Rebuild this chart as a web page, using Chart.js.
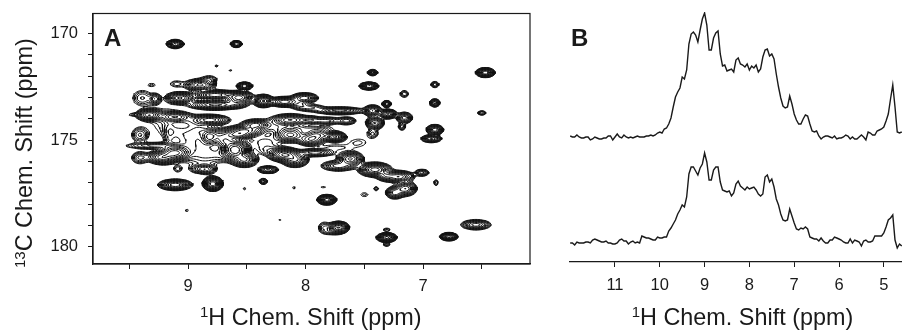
<!DOCTYPE html>
<html>
<head>
<meta charset="utf-8">
<title>NMR spectra</title>
<script src="https://cdn.jsdelivr.net/npm/chart.js@4/dist/chart.umd.min.js"></script>
<style>
  html, body { margin: 0; background: #fff; }
  canvas { position: absolute; top: 0; }
  #chartA { left: 0; }
  #chartB { left: 545px; }
</style>
</head>
<body>
<canvas id="chartA" width="545" height="330"></canvas>
<canvas id="chartB" width="357" height="330"></canvas>
<script>
// Panel A peaks: 1H ppm, 13C ppm, height, half width 1H, half width 13C
const peaksA = [
  [9.11,170.49,20,.077,.21],[8.59,170.49,12,.051,.16],[8.76,171.52,1.6,.013,.06],[8.64,171.73,1.3,.01,.05],
  [9.31,172.41,1.5,.03,.07],[8.52,172.46,15,.07,.19],[9.10,172.36,2,.05,.14],[8.90,172.41,12,.14,.3],
  [8.82,172.13,2.5,.06,.15],[9.39,173.02,3,.08,.35],[9.28,173.06,6,.05,.25],[9.07,173.02,15,.13,.3],
  [8.77,172.88,18,.2,.25],[8.56,172.97,14,.12,.28],[8.36,173.16,25,.09,.32],[8.18,173.2,18,.15,.25],
  [8.01,173.02,14,.12,.25],[8.05,173.34,4,.08,.18],[7.71,173.62,10,.22,.18],[7.96,173.48,4,.12,.16],
  [7.43,173.62,14,.08,.28],[7.30,173.77,20,.08,.23],[7.31,173.3,12,.04,.16],[7.41,174.19,15,.08,.32],
  [7.43,174.7,2.5,.045,.19],[7.16,173.95,10,.07,.27],[7.18,174.37,4,.03,.16],[7.16,172.83,3,.035,.16],
  [7.43,171.83,8,.045,.14],[7.46,172.46,20,.085,.19],[6.90,172.39,4,.035,.14],[6.47,171.83,25,.085,.23],
  [6.90,173.25,12,.045,.19],[6.50,173.72,4,.035,.1],[6.90,174.51,18,.075,.25],[6.93,174.93,12,.09,.18],
  [9.33,173.81,18,.12,.3],[9.11,173.9,10,.14,.25],[8.81,174.05,12,.17,.25],[8.77,173.34,16,.24,.25],
  [8.43,174.28,12,.12,.25],[8.52,174.56,14,.17,.28],[8.13,174.05,14,.17,.3],[7.96,174.05,5,.08,.18],
  [7.83,174.09,6,.14,.18],[7.65,174.09,6,.08,.18],[8.13,174.75,12,.14,.37],[7.96,174.98,10,.12,.3],
  [7.75,174.84,20,.1,.26],[7.9,174.75,8,.12,.3],[9.41,174.75,4,.07,.35],[8.82,174.84,10,.08,.42],
  [9.11,174.6,2,.08,.25],[8.99,174.75,1.7,.07,.3],[8.94,175.45,1.6,.1,.55],[9.2,174.05,1.5,.1,.45],
  [9.37,175.26,3,.16,.12],[9.11,175.59,20,.15,.42],[8.6,175.45,30,.14,.58],[8.52,175.92,15,.12,.36],
  [9.41,175.82,4,.07,.28],[9.28,175.78,2,.08,.12],[8.18,175.68,25,.15,.36],[8.09,175.92,15,.12,.36],
  [7.92,175.59,8,.17,.18],[8.32,176.38,12,.09,.18],[8.36,176.93,5,.035,.14],[9.11,177.09,18,.15,.27],
  [8.79,177.04,30,.09,.36],[9.09,176.34,2,.03,.14],[8.83,176.38,3,.06,.19],[8.52,177.27,1.5,.013,.06],
  [8.1,177.23,1.5,.013,.05],[9.01,178.29,1.6,.013,.05],[8.22,178.72,1.3,.01,.04],[7.62,175.87,15,.12,.36],
  [7.72,176.2,8,.15,.25],[7.41,176.38,22,.15,.36],[7.32,176.66,8,.08,.25],[7.21,176.71,14,.14,.3],
  [7.15,177.27,14,.1,.36],[7.24,177.46,10,.08,.3],[7.01,176.52,6,.06,.16],[7.1,176.66,1.6,.013,.06],
  [6.89,176.99,2.5,.017,.14],[7.5,177.55,1.5,.03,.09],[7.4,177.27,3,.02,.09],[7.82,177.79,30,.085,.25],
  [7.72,179.09,25,.095,.3],[7.84,179.09,3,.05,.25],[7.77,179.28,3,.07,.14],[7.31,179.56,28,.09,.23],
  [7.31,179.19,2,.03,.07],[7.31,179.89,3,.03,.07],[6.78,179.52,30,.08,.19],[6.55,178.96,10,.13,.24],
  [8.58,173.11,10,.12,.36],[8.58,174.75,14,.14,.25],
  [9.45,173.8,2,.06,.05],[9.25,175.26,4,.14,.14],[9.22,175.8,15,.13,.36],[9.16,174.9,1.8,.03,.6],
  [8.84,175.65,2,.1,.4],[8.88,176.35,6,.1,.2],[8.73,174.8,6,.11,.36],[8.68,175.05,8,.09,.3],
  [8.9,174.55,3,.09,.3],[9.0,175.15,1.8,.11,.36],[8.7,175.7,2,.09,.25],[8.93,174.1,2.5,.16,.25],
  [8.3,174.3,2,.16,.25],[8.35,175.1,2,.11,.3],[8.3,175.5,2,.09,.18],[8,174.45,2.5,.22,.14],
  [7.75,175.35,1.5,.1,.12],[7.55,175.1,1.4,.06,.15],[7.85,177.2,1.3,.02,.04]
];
const contourLevels = [1, 1.3, 1.7, 2.2, 2.9, 3.8, 4.9, 6.4, 8.3, 10.8, 14, 18.2, 23.7];

// Panel B traces, one value per grid point
const ppmGrid = [
  12,11.95,11.9,11.85,11.8,11.75,11.7,11.65,11.6,11.55,11.5,11.45,11.4,11.35,11.3,11.25,11.2,11.15,11.1,11.05,
  11,10.95,10.9,10.85,10.8,10.75,10.7,10.65,10.6,10.55,10.5,10.45,10.4,10.35,10.3,10.25,10.2,10.15,10.1,10.05,
  10,9.95,9.9,9.85,9.8,9.75,9.7,9.65,9.6,9.55,9.5,9.45,9.4,9.35,9.3,9.25,9.2,9.15,9.1,9.05,
  9,8.95,8.9,8.85,8.8,8.75,8.7,8.65,8.6,8.55,8.5,8.45,8.4,8.35,8.3,8.25,8.2,8.15,8.1,8.05,
  8,7.95,7.9,7.85,7.8,7.75,7.7,7.65,7.6,7.55,7.5,7.45,7.4,7.35,7.3,7.25,7.2,7.15,7.1,7.05,
  7,6.95,6.9,6.85,6.8,6.75,6.7,6.65,6.6,6.55,6.5,6.45,6.4,6.35,6.3,6.25,6.2,6.15,6.1,6.05,
  6,5.95,5.9,5.85,5.8,5.75,5.7,5.65,5.6,5.55,5.5,5.45,5.4,5.35,5.3,5.25,5.2,5.15,5.1,5.05,
  5,4.95,4.9,4.85,4.8,4.75,4.7,4.65,4.6
];
const upperTrace = [
  126,125,125,127,125,124,124,125,125,122,123,125,124,123,123,124,124,126,126,122,
  125,128,125,124,127,125,124,125,124,125,126,125,125,125,126,126,127,126,127,129,
  130,129,133,134,138,144,155,165,170,174,185,183,192,218,228,230,227,220,232,243,
  249,237,212,212,224,229,231,208,196,197,191,192,193,190,202,204,198,197,195,198,
  192,196,194,197,190,193,205,212,213,206,208,203,188,175,164,156,154,155,166,158,
  148,142,138,138,143,147,146,138,131,130,131,126,123,125,126,126,125,124,126,123,
  124,124,125,127,126,123,125,123,123,125,127,125,122,130,129,127,127,131,132,133,
  135,141,148,163,177,155,130,129,130
];
const lowerTrace = [
  19,19,17,20,19,19,19,20,20,19,22,23,22,21,20,20,21,19,19,18,
  18,19,22,23,21,21,18,20,21,19,20,19,26,25,24,24,23,22,22,25,
  24,24,25,25,31,34,38,42,48,52,57,55,65,88,95,95,91,87,94,98,
  109,100,82,82,92,95,95,80,72,71,70,71,66,69,78,81,76,74,72,75,
  73,74,75,72,68,66,68,85,87,80,83,75,63,57,48,42,41,42,53,46,
  39,33,32,34,33,35,33,25,24,23,23,21,24,21,19,19,22,22,25,24,
  23,22,20,19,19,23,19,22,21,20,16,21,22,20,20,21,26,26,26,26,
  29,35,42,44,47,22,14,18,16
];

const INK = "#1a1a1a";
const FAMILY = "'Liberation Sans', Arial, sans-serif";
const TICK_FONT = { family: FAMILY, size: 16.5 };

// Field of summed peaks on a ppm grid, then marching squares per level
function buildContours(peaks, levels, xMin, xMax, yMin, yMax, dx, dy) {
  const nx = Math.ceil((xMax - xMin) / dx) + 1;
  const ny = Math.ceil((yMax - yMin) / dy) + 1;
  const field = new Float64Array(nx * ny);
  for (const [h, c, height, rh, rc] of peaks) {
    const k = Math.sqrt(2 * Math.log(height));
    const sx = rh / k, sy = rc / k;
    const i0 = Math.max(0, Math.floor((h - 4 * sx - xMin) / dx));
    const i1 = Math.min(nx - 1, Math.ceil((h + 4 * sx - xMin) / dx));
    const j0 = Math.max(0, Math.floor((c - 4 * sy - yMin) / dy));
    const j1 = Math.min(ny - 1, Math.ceil((c + 4 * sy - yMin) / dy));
    for (let j = j0; j <= j1; j++) {
      for (let i = i0; i <= i1; i++) {
        const ex = (xMin + i * dx - h) / sx, ey = (yMin + j * dy - c) / sy;
        field[j * nx + i] += height * Math.exp(-0.5 * (ex * ex + ey * ey));
      }
    }
  }
  const out = [];
  const seg = (a, b) => out.push(a, b, { x: NaN, y: NaN });
  for (const L of levels) {
    for (let j = 0; j < ny - 1; j++) {
      for (let i = 0; i < nx - 1; i++) {
        const a = field[j * nx + i], b = field[j * nx + i + 1];
        const d = field[(j + 1) * nx + i], c = field[(j + 1) * nx + i + 1];
        const code = (a > L ? 1 : 0) | (b > L ? 2 : 0) | (c > L ? 4 : 0) | (d > L ? 8 : 0);
        if (code === 0 || code === 15) continue;
        const x = xMin + i * dx, y = yMin + j * dy;
        const top = () => ({ x: x + dx * (L - a) / (b - a), y });
        const bot = () => ({ x: x + dx * (L - d) / (c - d), y: y + dy });
        const lft = () => ({ x, y: y + dy * (L - a) / (d - a) });
        const rgt = () => ({ x: x + dx, y: y + dy * (L - b) / (c - b) });
        switch (code) {
          case 1: case 14: seg(lft(), top()); break;
          case 2: case 13: seg(top(), rgt()); break;
          case 3: case 12: seg(lft(), rgt()); break;
          case 4: case 11: seg(rgt(), bot()); break;
          case 6: case 9: seg(top(), bot()); break;
          case 7: case 8: seg(lft(), bot()); break;
          case 5: seg(lft(), top()); seg(rgt(), bot()); break;
          case 10: seg(top(), rgt()); seg(lft(), bot()); break;
        }
      }
    }
  }
  return out;
}

// Axis title with a raised isotope number, which scale.title can't do
function drawTitle(ctx, sup, text, x, y, angle) {
  ctx.save();
  ctx.translate(x, y);
  ctx.rotate(angle);
  ctx.textBaseline = "alphabetic";
  ctx.textAlign = "left";
  ctx.font = "15px " + FAMILY;
  ctx.fillText(sup, 0, -7.5);
  const w = ctx.measureText(sup).width;
  ctx.font = "23.4px " + FAMILY;
  ctx.fillText(text, w, 0);
  ctx.restore();
}

// Panel letter, axis titles and optional frame
const panelDecor = {
  id: "panelDecor",
  afterDraw(chart, args, opts) {
    const { ctx, chartArea: a } = chart;
    ctx.save();
    if (opts.frame) {
      ctx.strokeStyle = INK;
      ctx.lineWidth = 1.2;
      ctx.strokeRect(a.left, a.top, a.right - a.left, a.bottom - a.top);
    }
    ctx.fillStyle = INK;
    ctx.font = "bold 24px " + FAMILY;
    ctx.textBaseline = "alphabetic";
    ctx.fillText(opts.letter, opts.x, opts.y);
    for (const t of opts.titles) drawTitle(ctx, t.sup, t.text, t.x, t.y, t.angle);
    ctx.restore();
  }
};

function fixHorizontal(height) {
  return (scale) => { scale.height = height; scale.paddingLeft = 0; scale.paddingRight = 0; };
}
function fixVertical(width) {
  return (scale) => { scale.width = width; scale.paddingTop = 0; scale.paddingBottom = 0; };
}

const contourData = buildContours(peaksA, contourLevels, 6.09, 9.81, 169.06, 180.8, 1.5 / 117.3, 1.5 / 21.38);

new Chart(document.getElementById("chartA"), {
  type: "scatter",
  plugins: [panelDecor],
  data: {
    datasets: [{
      data: contourData,
      showLine: true,
      spanGaps: false,
      pointRadius: 0,
      borderColor: "#111",
      borderWidth: 1,
      tension: 0
    }]
  },
  options: {
    responsive: false,
    animation: false,
    events: [],
    layout: { padding: { top: 13.5, left: 0, right: 15, bottom: 0 } },
    plugins: {
      legend: { display: false },
      tooltip: { enabled: false },
      panelDecor: {
        letter: "A", x: 104, y: 46, frame: true,
        titles: [
          { sup: "1", text: "H Chem. Shift (ppm)", x: 200, y: 324.5, angle: 0 },
          { sup: "13", text: "C Chem. Shift (ppm)", x: 32, y: 268, angle: -Math.PI / 2 }
        ]
      }
    },
    scales: {
      x: {
        type: "linear",
        reverse: true,
        min: 6.09,
        max: 9.81,
        afterFit: fixHorizontal(66),
        grid: { drawOnChartArea: false, tickLength: 5, tickColor: INK, tickWidth: 1 },
        border: { color: INK, width: 1.2 },
        ticks: {
          stepSize: 0.5,
          includeBounds: false,
          autoSkip: false,
          maxRotation: 0,
          padding: 8,
          color: INK,
          font: TICK_FONT,
          callback: (v) => (Number.isInteger(v) ? String(v) : "")
        }
      },
      y: {
        type: "linear",
        reverse: true,
        min: 169.06,
        max: 180.8,
        afterFit: fixVertical(93),
        grid: { drawOnChartArea: false, tickLength: 5, tickColor: INK, tickWidth: 1 },
        border: { color: INK, width: 1.2 },
        ticks: {
          stepSize: 1,
          includeBounds: false,
          autoSkip: false,
          padding: 10,
          color: INK,
          font: TICK_FONT,
          callback: (v) => (v % 5 === 0 ? String(v) : "")
        }
      }
    }
  }
});

new Chart(document.getElementById("chartB"), {
  type: "line",
  plugins: [panelDecor],
  data: {
    labels: ppmGrid,
    datasets: [
      { label: "upper", data: upperTrace.map((v, i) => ({ x: ppmGrid[i], y: v })), borderColor: INK, borderWidth: 1.4, pointRadius: 0, tension: 0 },
      { label: "lower", data: lowerTrace.map((v, i) => ({ x: ppmGrid[i], y: v })), borderColor: INK, borderWidth: 1.4, pointRadius: 0, tension: 0 }
    ]
  },
  options: {
    responsive: false,
    animation: false,
    events: [],
    layout: { padding: { top: 12, left: 25, right: 0, bottom: 0 } },
    plugins: {
      legend: { display: false },
      tooltip: { enabled: false },
      panelDecor: {
        letter: "B", x: 26, y: 46, frame: false,
        titles: [{ sup: "1", text: "H Chem. Shift (ppm)", x: 86.7, y: 324.5, angle: 0 }]
      }
    },
    scales: {
      x: {
        type: "linear",
        reverse: true,
        min: 4.594,
        max: 12.004,
        afterFit: fixHorizontal(68),
        afterBuildTicks(scale) { scale.ticks = scale.ticks.filter((t) => t.value < 11.9); },
        grid: { drawOnChartArea: false, tickLength: 5, tickColor: INK, tickWidth: 1 },
        border: { color: INK, width: 1.2 },
        ticks: { stepSize: 1, includeBounds: false, autoSkip: false, maxRotation: 0, padding: 9, color: INK, font: TICK_FONT }
      },
      y: { display: false, min: 0, max: 250 }
    }
  }
});
</script>
</body>
</html>
